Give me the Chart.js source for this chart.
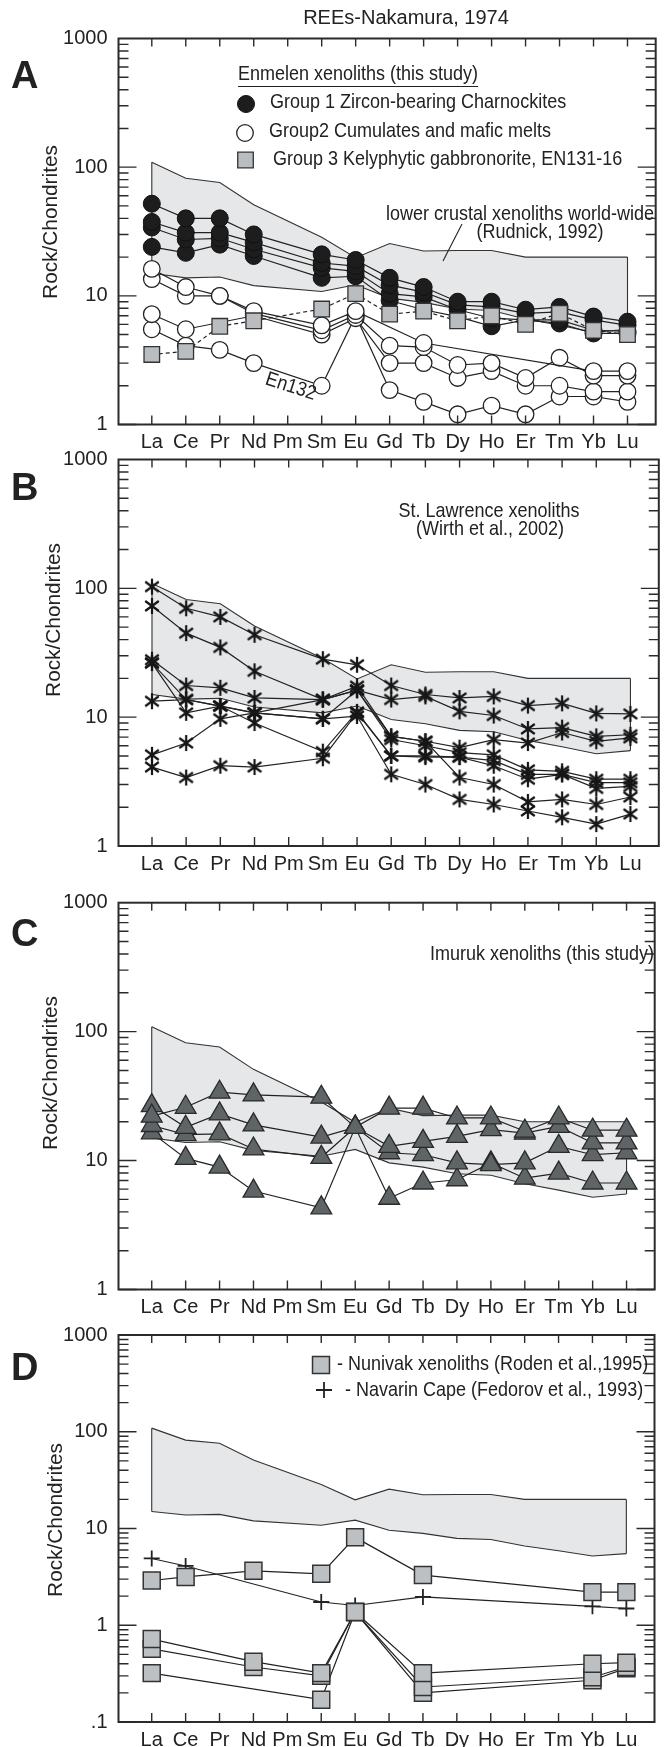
<!DOCTYPE html>
<html>
<head>
<meta charset="utf-8">
<script src="https://cdn.jsdelivr.net/npm/chart.js@4.4.0/dist/chart.umd.min.js"></script>
<style>
  html, body { margin: 0; padding: 0; background: #fff; }
  #page { position: relative; width: 668px; height: 1747px; overflow: hidden; background: #fff; }
  #page canvas { position: absolute; left: 0; }
</style>
</head>
<body>
<div id="page">
  <canvas id="pA"></canvas>
  <canvas id="pB"></canvas>
  <canvas id="pC"></canvas>
  <canvas id="pD"></canvas>
</div>
<script>
const REE = ['La', 'Ce', 'Pr', 'Nd', 'Pm', 'Sm', 'Eu', 'Gd', 'Tb', 'Dy', 'Ho', 'Er', 'Tm', 'Yb', 'Lu']

// lower crustal xenoliths world-wide (Rudnick, 1992) envelope
const bandUpper = [109, 82, 76, 51, null, 28.5, 19.8, 25.5, 22.3, 22.5, 22.5, 20, 20, 20, 20]
const bandLower = [15, 13.8, 14, 12, null, 10.8, 12.2, 9.6, 8.9, 7.9, 7.7, 6.6, 5.9, 5.2, 5.5]

// A: Enmelen xenoliths
const enmGroup1 = [
  [52, 40, 40, 30, null, 21, 19, 13.8, 11.7, 9, 9, 7.8, 8.2, 6.9, 6.3],
  [37.5, 31, 31, 26, null, 18, 17, 12.1, 10.7, 8.5, 8.2, 7.3, 7.5, 6.5, 5.9],
  [34, 27.4, 28, 23, null, 16.5, 15.5, 10.4, 9.8, 7.8, 6.7, 6.5, 6.5, 5.4, 5.3],
  [24, 21.6, 25, 20.4, null, 13.8, 14.2, 9.2, 7.8, 6.9, 5.8, 6.5, 6.1, 5.1, 5.1]
]
const enmGroup2 = [
  [16.2, 11.7, 10, 7.6, null, 5.9, 7.6, null, 4.3, null, null, null, null, 2.6, 2.6],
  [13.5, 10, 10, 7.3, null, 5.4, 7.1, 4.1, 4.0, 2.9, 3.0, 2.3, 3.3, 2.4, 2.4],
  [7.2, 5.5, null, 7.0, null, 5.0, 6.7, 3.0, 3.0, 2.3, 2.6, 2.0, 2.0, 1.8, 1.8],
  [5.5, 4.1, 3.8, 3.0, null, 2.0, 7.0, 1.85, 1.5, 1.2, 1.4, 1.2, 1.65, 1.65, 1.5]
]
const enmGroup3 = [3.5, 3.7, 5.8, 6.4, null, 7.9, 10.4, 7.2, 7.6, 6.4, 7.0, 6.0, 7.3, 5.4, 5.0]

// B: St. Lawrence xenoliths (Wirth et al., 2002)
const stLawrence = [
  [103, 70, 60, 43.6, null, 28.2, 25.5, 17.6, 15.0, 14.1, 14.5, 12.3, 12.8, 10.7, 10.6],
  [73, 44.9, 34.8, 22.7, null, 13.7, 16.2, 13.7, 14.5, 11.1, 10.3, 8.1, 8.3, 7.1, 7.3],
  [27.9, 17.6, 16.9, 14.1, null, 13.7, 17.4, 7.1, 6.5, 5.8, 6.7, 6.3, 7.6, 6.5, 6.9],
  [26.3, 13.7, 12.2, 10.8, null, 9.7, 16.2, 6.7, 6.0, 5.3, 5.1, 3.9, 3.8, 3.3, 3.3],
  [26.3, 10.8, 12.2, 9.0, null, 5.4, 11.0, 5.0, 5.0, 4.9, 4.6, 3.6, 3.6, 3.1, 3.1],
  [13.3, 13.7, 12.2, 10.8, null, 9.7, 10.2, 3.6, 3.0, 2.3, 2.1, 1.87, 1.67, 1.48, 1.77],
  [5.1, 6.3, 9.7, 10.8, null, 13.7, 16.2, 7.1, 6.5, 3.4, 3.0, 2.2, 2.3, 2.1, 2.4],
  [4.1, 3.4, 4.2, 4.1, null, 4.8, 10.8, 5.0, 4.9, 4.9, 4.2, 3.3, 3.6, 2.8, 2.9]
]

// C: Imuruk xenoliths
const imuruk = [
  [22.1, 25.9, 33.9, 32.3, null, 31, 18.1, 25.5, 25.5, 21.4, 21.4, 16.9, 21.4, 17.2, 17.2],
  [26.7, 18.1, 23.0, 18.9, null, 15.2, 18.1, 12.9, 14.1, 15.4, 17.4, 16.3, 18.4, 13.7, 13.7],
  [18.7, 15.9, 16.1, 12.3, null, 10.6, 18.1, 11.5, 11.1, 9.6, 9.3, 9.6, 12.9, 11.1, 11.5],
  [16.4, 10.4, 8.9, 5.8, null, 4.3, 18.1, 5.1, 6.7, 7.1, 9.6, 7.3, 8.0, 6.7, 6.7]
]

// D: Nunivak (Roden et al., 1995) and Navarin Cape (Fedorov et al., 1993)
const nunivak = [
  [2.9, 3.16, null, 3.65, null, 3.4, 8.1, null, 3.3, null, null, null, null, 2.2, 2.2],
  [0.72, null, null, 0.42, null, 0.32, 1.37, null, 0.32, null, null, null, null, 0.40, 0.41],
  [0.57, null, null, 0.37, null, 0.30, 1.37, null, 0.23, null, null, null, null, 0.29, 0.37],
  [0.32, null, null, null, null, 0.17, 1.37, null, 0.20, null, null, null, null, 0.27, 0.36]
]
const navarin = [4.9, 4.1, null, null, null, 1.74, 1.6, null, 1.96, null, null, null, null, 1.57, 1.49]

const FONT = '"Liberation Sans", Arial, sans-serif'
const INK = '#222'

function starImage() {
  const c = document.createElement('canvas')
  c.width = 18
  c.height = 18
  const g = c.getContext('2d')
  g.strokeStyle = '#161616'
  g.lineWidth = 2.2
  g.beginPath()
  g.moveTo(9, 1); g.lineTo(9, 17)
  g.moveTo(2.2, 4); g.lineTo(15.8, 14)
  g.moveTo(2.2, 14); g.lineTo(15.8, 4)
  g.stroke()
  return c
}
const STAR = starImage()

const styles = {
  g1: { pointStyle: 'circle', pointRadius: 8.5, pointBackgroundColor: '#1d1d1d', pointBorderColor: '#111', pointBorderWidth: 1 },
  g2: { pointStyle: 'circle', pointRadius: 8.3, pointBackgroundColor: '#fff', pointBorderColor: '#222', pointBorderWidth: 1.3 },
  g3: { pointStyle: 'rect', pointRadius: 11, pointBackgroundColor: '#b9bdc0', pointBorderColor: '#333', pointBorderWidth: 1.3, borderDash: [4, 3] },
  star: { pointStyle: STAR, pointRadius: 8 },
  tri: { pointStyle: 'triangle', pointRadius: 12, pointBackgroundColor: '#5f6467', pointBorderColor: '#2a2a2a', pointBorderWidth: 1.3 },
  sq: { pointStyle: 'rect', pointRadius: 12, pointBackgroundColor: '#bcc0c3', pointBorderColor: '#333', pointBorderWidth: 1.5 },
  cross: { pointStyle: 'cross', pointRadius: 8, pointBorderColor: '#222', pointBorderWidth: 1.8 }
}

function series(vals, style) {
  return Object.assign({
    data: vals.map((v, i) => ({ x: i, y: v })),
    borderColor: INK,
    borderWidth: 1.2,
    spanGaps: true,
    fill: false,
    order: 0
  }, style)
}

function band() {
  const common = { borderColor: '#333', borderWidth: 1.1, pointRadius: 0, spanGaps: true, order: 10 }
  return [
    Object.assign({ band: 'upper', data: bandUpper.map((v, i) => ({ x: i, y: v })), fill: '+1', backgroundColor: '#e6e7e9' }, common),
    Object.assign({ band: 'lower', data: bandLower.map((v, i) => ({ x: i, y: v })), fill: false }, common)
  ]
}

// page-coordinate decorations for each panel
const decor = {
  pA: {
    top: 0, letter: 'A', letterY: 88, titleX: 51, titleY: 222,
    texts: [
      { t: 'REEs-Nakamura, 1974', x: 406, y: 24, align: 'center', size: 20, sy: 1 },
      { t: 'Enmelen xenoliths (this study)', x: 238, y: 80, underline: 86.5 },
      { t: 'Group 1 Zircon-bearing Charnockites', x: 270, y: 107.5 },
      { t: 'Group2 Cumulates and mafic melts', x: 269, y: 136.5 },
      { t: 'Group 3 Kelyphytic gabbronorite, EN131-16', x: 273, y: 165 },
      { t: 'lower crustal xenoliths world-wide', x: 654, y: 220, align: 'right' },
      { t: '(Rudnick, 1992)', x: 540, y: 238, align: 'center' },
      { t: 'En132', x: 289, y: 392, align: 'center', rot: 18 }
    ],
    keys: [['g1', 246, 104], ['g2', 245, 133], ['g3', 245.5, 160]],
    lines: [[462, 224, 443, 261]]
  },
  pB: {
    top: 420, letter: 'B', letterY: 500, titleX: 54, titleY: 620,
    texts: [
      { t: 'St. Lawrence xenoliths', x: 489, y: 516.5, align: 'center' },
      { t: '(Wirth et al., 2002)', x: 490, y: 535, align: 'center' }
    ]
  },
  pC: {
    top: 862, letter: 'C', letterY: 946, titleX: 51, titleY: 1073,
    texts: [{ t: 'Imuruk xenoliths (this study)', x: 654, y: 960, align: 'right' }]
  },
  pD: {
    top: 1295, letter: 'D', letterY: 1380, titleX: 56, titleY: 1520,
    texts: [
      { t: '- Nunivak xenoliths (Roden et al.,1995)', x: 337, y: 1370 },
      { t: '- Navarin Cape (Fedorov et al., 1993)', x: 345, y: 1396 }
    ],
    keys: [['sq', 321, 1365], ['cross', 324, 1390]]
  }
}

const panelPlugin = {
  id: 'panelDecor',
  afterDatasetDraw(chart, args) {
    const ds = chart.data.datasets[args.index]
    if (ds.band !== 'upper') return
    const up = args.meta.data
    const lo = chart.getDatasetMeta(args.index + 1).data
    const ctx = chart.ctx
    ctx.save()
    ctx.strokeStyle = '#333'
    ctx.lineWidth = 1.1
    ctx.beginPath()
    for (const i of [0, up.length - 1]) {
      ctx.moveTo(up[i].x, up[i].y)
      ctx.lineTo(lo[i].x, lo[i].y)
    }
    ctx.stroke()
    ctx.restore()
  },
  afterDatasetsDraw(chart) {
    const { ctx, chartArea: a, scales: { x, y } } = chart
    ctx.save()
    ctx.strokeStyle = '#2b2b2b'
    ctx.lineWidth = 2
    ctx.strokeRect(a.left, a.top, a.right - a.left, a.bottom - a.top)
    ctx.lineWidth = 1.4
    ctx.beginPath()
    REE.forEach((_, i) => {
      const px = x.getPixelForValue(i)
      ctx.moveTo(px, a.top); ctx.lineTo(px, a.top + 8)
      ctx.moveTo(px, a.bottom); ctx.lineTo(px, a.bottom - 9)
    })
    const lo = Math.round(Math.log10(y.min))
    const hi = Math.round(Math.log10(y.max))
    for (let e = lo; e < hi; e++) {
      for (let m = 1; m <= 9; m++) {
        const py = y.getPixelForValue(m * Math.pow(10, e))
        const len = m === 1 ? 18 : 10
        ctx.moveTo(a.left, py); ctx.lineTo(a.left + len, py)
        ctx.moveTo(a.right, py); ctx.lineTo(a.right - len, py)
      }
    }
    ctx.stroke()
    ctx.restore()
  },
  afterDraw(chart) {
    const d = decor[chart.canvas.id]
    if (!d) return
    const ctx = chart.ctx
    const off = d.top
    ctx.save()
    ctx.fillStyle = INK
    ctx.strokeStyle = INK
    ctx.font = 'bold 38px ' + FONT
    ctx.textAlign = 'left'
    ctx.textBaseline = 'alphabetic'
    ctx.fillText(d.letter, 11, d.letterY - off)

    ctx.save()
    ctx.font = '20px ' + FONT
    ctx.translate(d.titleX, d.titleY - off)
    ctx.rotate(-Math.PI / 2)
    ctx.scale(1.04, 1)
    ctx.textAlign = 'center'
    ctx.textBaseline = 'middle'
    ctx.fillText('Rock/Chondrites', 0, 0)
    ctx.restore()

    for (const t of d.texts || []) {
      ctx.save()
      ctx.font = (t.size || 18) + 'px ' + FONT
      ctx.textAlign = t.align || 'left'
      ctx.translate(t.x, t.y - off)
      if (t.rot) ctx.rotate(t.rot * Math.PI / 180)
      ctx.scale(1, t.sy || 1.12)
      ctx.fillText(t.t, 0, 0)
      if (t.underline) {
        const w = ctx.measureText(t.t).width
        ctx.setTransform(1, 0, 0, 1, t.x, t.y - off)
        ctx.lineWidth = 1.2
        ctx.beginPath()
        ctx.moveTo(0, t.underline - t.y)
        ctx.lineTo(w, t.underline - t.y)
        ctx.stroke()
      }
      ctx.restore()
    }

    for (const [name, kx, ky] of d.keys || []) {
      const s = styles[name]
      ctx.save()
      ctx.fillStyle = s.pointBackgroundColor || 'transparent'
      ctx.strokeStyle = s.pointBorderColor
      ctx.lineWidth = s.pointBorderWidth
      Chart.helpers.drawPoint(ctx, { pointStyle: s.pointStyle, radius: s.pointRadius, rotation: 0, borderWidth: s.pointBorderWidth }, kx, ky - off)
      ctx.restore()
    }

    ctx.lineWidth = 1.1
    for (const [x1, y1, x2, y2] of d.lines || []) {
      ctx.beginPath()
      ctx.moveTo(x1, y1 - off)
      ctx.lineTo(x2, y2 - off)
      ctx.stroke()
    }
    ctx.restore()
  }
}

function yLabel(v) {
  const e = Math.log10(v)
  if (Math.abs(e - Math.round(e)) > 1e-6) return ''
  return v < 1 ? String(v).replace(/^0/, '') : String(Math.round(v))
}

function xLabel(v) {
  const i = Math.round(v)
  return Math.abs(v - i) < 1e-6 && REE[i] ? REE[i] : ''
}

function makePanel(id, canvasTop, canvasHeight, plotTop, plotBottom, yMin, datasets) {
  const el = document.getElementById(id)
  el.width = 668
  el.height = canvasHeight
  el.style.top = canvasTop + 'px'
  const xAxisH = 32
  new Chart(el, {
    type: 'line',
    data: { datasets: datasets },
    plugins: [panelPlugin],
    options: {
      responsive: false,
      animation: false,
      events: [],
      layout: {
        padding: {
          top: plotTop - canvasTop,
          bottom: canvasHeight - (plotBottom - canvasTop) - xAxisH,
          left: 0,
          right: 1
        }
      },
      plugins: {
        legend: { display: false },
        tooltip: { enabled: false },
        filler: { drawTime: 'beforeDatasetsDraw' }
      },
      scales: {
        x: {
          type: 'linear',
          min: -0.98,
          max: 14.83,
          grid: { display: false, drawTicks: false },
          border: { display: false },
          afterFit: s => { s.height = xAxisH },
          ticks: {
            stepSize: 1,
            includeBounds: false,
            autoSkip: false,
            maxRotation: 0,
            minRotation: 0,
            padding: 6,
            color: INK,
            font: { family: FONT, size: 20 },
            callback: xLabel
          }
        },
        y: {
          type: 'logarithmic',
          min: yMin,
          max: 1000,
          grid: { display: false, drawTicks: false },
          border: { display: false },
          afterFit: s => { s.width = 118.5 },
          ticks: {
            autoSkip: false,
            padding: 11,
            color: INK,
            font: { family: FONT, size: 20 },
            callback: yLabel
          }
        }
      }
    }
  })
}

makePanel('pA', 0, 470, 38.5, 424.5, 1, [
  series(enmGroup3, styles.g3),
  ...enmGroup1.map(v => series(v, styles.g1)),
  ...enmGroup2.map(v => series(v, styles.g2)),
  ...band()
])

makePanel('pB', 420, 470, 459.5, 846, 1, [
  ...stLawrence.map(v => series(v, styles.star)),
  ...band()
])

makePanel('pC', 862, 470, 902.7, 1289.5, 1, [
  ...imuruk.map(v => series(v, styles.tri)),
  ...band()
])

makePanel('pD', 1295, 462, 1335, 1722, 0.1, [
  ...nunivak.map(v => series(v, styles.sq)),
  series(navarin, styles.cross),
  ...band()
])
</script>
</body>
</html>
